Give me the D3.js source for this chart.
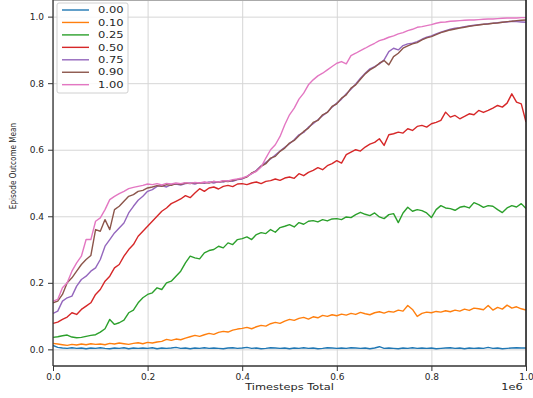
<!DOCTYPE html>
<html>
<head>
  <meta charset="utf-8">
  <title>Episode Outcome Mean</title>
  <style>
    body { margin: 0; background: #fff; }
    text { font-family: "DejaVu Sans", sans-serif; fill: #262626; }
  </style>
</head>
<body>
<script src="https://cdnjs.cloudflare.com/ajax/libs/d3/7.8.5/d3.min.js"></script>
<div id="vis"></div>
<script>

// timesteps, one point every 10k steps
var steps = d3.range(0, 101).map(function(i) { return i * 10000; });

var labels = ["0.00", "0.10", "0.25", "0.50", "0.75", "0.90", "1.00"];
var colors = ["#1f77b4", "#ff7f0e", "#2ca02c", "#d62728", "#9467bd", "#8c564b", "#e377c2"];

var xTicks = [0, 200000, 400000, 600000, 800000, 1000000];
var yTicks = [0, 0.2, 0.4, 0.6, 0.8, 1.0];

var s000 = [0.012,0.006,0.004,0.003,0.005,0.003,0.004,0.002,0.004,0.003,
  0.005,0.003,0.002,0.004,0.003,0.005,0.002,0.004,0.003,0.004,
  0.003,0.005,0.002,0.004,0.003,0.004,0.006,0.003,0.004,0.002,
  0.004,0.003,0.005,0.003,0.004,0.003,0.002,0.004,0.005,0.003,
  0.004,0.006,0.003,0.004,0.002,0.003,0.005,0.004,0.003,0.004,
  0.002,0.004,0.003,0.005,0.003,0.004,0.002,0.003,0.005,0.004,
  0.003,0.004,0.003,0.005,0.004,0.003,0.004,0.002,0.004,0.008,
  0.003,0.004,0.003,0.002,0.004,0.003,0.005,0.003,0.004,0.003,
  0.004,0.002,0.003,0.004,0.005,0.003,0.004,0.002,0.004,0.003,
  0.004,0.003,0.006,0.003,0.004,0.002,0.003,0.004,0.005,0.004,0.004];

var s010 = [0.018,0.016,0.014,0.012,0.015,0.013,0.016,0.014,0.017,0.015,
  0.016,0.014,0.018,0.016,0.019,0.017,0.015,0.018,0.02,0.017,
  0.021,0.019,0.022,0.024,0.03,0.027,0.031,0.029,0.034,0.038,
  0.042,0.039,0.044,0.048,0.045,0.051,0.054,0.052,0.058,0.061,
  0.063,0.066,0.062,0.068,0.072,0.07,0.077,0.081,0.078,0.085,
  0.09,0.087,0.093,0.096,0.091,0.098,0.095,0.102,0.099,0.104,
  0.101,0.106,0.103,0.108,0.105,0.111,0.107,0.104,0.11,0.113,
  0.109,0.114,0.112,0.118,0.115,0.132,0.12,0.099,0.108,0.112,
  0.11,0.114,0.112,0.116,0.113,0.118,0.115,0.121,0.117,0.124,
  0.122,0.119,0.132,0.118,0.126,0.121,0.133,0.124,0.128,0.122,0.118];

var s025 = [0.036,0.038,0.041,0.043,0.037,0.035,0.036,0.039,0.042,0.044,
  0.052,0.062,0.09,0.075,0.08,0.088,0.11,0.118,0.14,0.155,
  0.165,0.17,0.185,0.18,0.2,0.205,0.22,0.235,0.26,0.28,
  0.275,0.272,0.29,0.297,0.3,0.31,0.305,0.32,0.315,0.33,
  0.333,0.338,0.33,0.345,0.351,0.348,0.36,0.352,0.366,0.37,
  0.375,0.368,0.381,0.376,0.385,0.387,0.383,0.39,0.386,0.392,
  0.393,0.39,0.398,0.396,0.405,0.412,0.406,0.402,0.41,0.398,
  0.393,0.405,0.408,0.381,0.41,0.427,0.415,0.42,0.417,0.41,
  0.396,0.42,0.432,0.425,0.423,0.418,0.427,0.43,0.425,0.441,
  0.435,0.427,0.432,0.43,0.42,0.411,0.425,0.432,0.428,0.438,0.423];

var s050 = [0.078,0.082,0.09,0.097,0.11,0.105,0.12,0.13,0.14,0.165,
  0.18,0.205,0.22,0.245,0.255,0.28,0.3,0.315,0.34,0.355,
  0.37,0.385,0.4,0.415,0.425,0.438,0.445,0.452,0.462,0.456,
  0.47,0.483,0.475,0.485,0.488,0.482,0.49,0.493,0.489,0.497,
  0.498,0.495,0.5,0.503,0.498,0.505,0.507,0.512,0.508,0.515,
  0.518,0.514,0.528,0.522,0.532,0.538,0.546,0.54,0.552,0.558,
  0.567,0.56,0.585,0.593,0.6,0.596,0.608,0.617,0.622,0.633,
  0.613,0.645,0.648,0.653,0.65,0.663,0.658,0.67,0.673,0.668,
  0.678,0.682,0.688,0.713,0.698,0.703,0.693,0.7,0.708,0.705,
  0.718,0.712,0.718,0.725,0.733,0.728,0.74,0.768,0.743,0.738,0.683];

var s075 = [0.108,0.115,0.145,0.155,0.16,0.19,0.21,0.22,0.235,0.245,
  0.27,0.31,0.33,0.35,0.365,0.38,0.41,0.43,0.448,0.46,
  0.475,0.48,0.49,0.492,0.488,0.495,0.497,0.494,0.498,0.5,
  0.497,0.501,0.499,0.503,0.5,0.504,0.503,0.507,0.505,0.51,
  0.512,0.52,0.528,0.538,0.552,0.562,0.572,0.584,0.596,0.607,
  0.618,0.63,0.645,0.652,0.668,0.678,0.69,0.702,0.713,0.728,
  0.74,0.752,0.768,0.782,0.798,0.815,0.83,0.843,0.85,0.858,
  0.87,0.895,0.905,0.9,0.913,0.918,0.92,0.925,0.932,0.938,
  0.942,0.948,0.953,0.958,0.962,0.965,0.967,0.97,0.972,0.974,
  0.976,0.977,0.979,0.98,0.982,0.983,0.984,0.986,0.985,0.984,0.983];

var s090 = [0.14,0.145,0.165,0.2,0.215,0.235,0.255,0.27,0.282,0.36,
  0.355,0.39,0.36,0.42,0.43,0.445,0.46,0.465,0.475,0.478,
  0.485,0.488,0.492,0.49,0.495,0.493,0.498,0.496,0.5,0.498,
  0.501,0.499,0.502,0.5,0.505,0.502,0.506,0.504,0.508,0.511,
  0.514,0.518,0.53,0.536,0.55,0.558,0.575,0.58,0.595,0.605,
  0.62,0.628,0.642,0.655,0.665,0.682,0.688,0.705,0.712,0.73,
  0.738,0.755,0.765,0.785,0.795,0.812,0.828,0.84,0.848,0.86,
  0.868,0.855,0.88,0.89,0.905,0.912,0.918,0.922,0.93,0.936,
  0.94,0.946,0.952,0.956,0.96,0.963,0.966,0.968,0.971,0.973,
  0.975,0.977,0.978,0.98,0.981,0.983,0.985,0.986,0.988,0.989,0.99];

var s100 = [0.145,0.15,0.185,0.2,0.235,0.26,0.28,0.33,0.33,0.385,
  0.395,0.42,0.45,0.46,0.468,0.475,0.483,0.487,0.49,0.493,
  0.497,0.495,0.498,0.494,0.499,0.497,0.5,0.498,0.501,0.499,
  0.502,0.5,0.503,0.501,0.505,0.503,0.507,0.506,0.51,0.512,
  0.515,0.52,0.528,0.535,0.548,0.575,0.6,0.615,0.64,0.675,
  0.705,0.725,0.752,0.77,0.795,0.81,0.822,0.83,0.84,0.85,
  0.86,0.865,0.858,0.883,0.89,0.898,0.905,0.913,0.92,0.928,
  0.932,0.938,0.942,0.948,0.952,0.958,0.962,0.968,0.97,0.973,
  0.976,0.98,0.983,0.984,0.986,0.987,0.988,0.989,0.99,0.99,
  0.991,0.992,0.993,0.993,0.994,0.995,0.996,0.996,0.996,0.997,0.997];

var series = [s000, s010, s025, s050, s075, s090, s100];

var W = 533, H = 398;
var pLeft = 53, pRight = 526, pTop = 0, pBottom = 366;

var svg = d3.select("#vis").append("svg")
  .attr("width", W)
  .attr("height", H);

var x = d3.scaleLinear().domain([0, 1000000]).range([pLeft, pRight]);
var y = d3.scaleLinear().domain([-0.05, 1.05]).range([pBottom, pTop]);

// grid
svg.append("g")
  .attr("transform", "translate(0," + pBottom + ")")
  .call(d3.axisBottom(x).tickValues(xTicks).tickSize(-(pBottom - pTop)).tickFormat(""))
  .call(function(g) {
    g.select(".domain").remove();
    g.selectAll("line").attr("stroke", "#d6d6d6").attr("stroke-width", 1);
  });
svg.append("g")
  .attr("transform", "translate(" + pLeft + ",0)")
  .call(d3.axisLeft(y).tickValues(yTicks).tickSize(-(pRight - pLeft)).tickFormat(""))
  .call(function(g) {
    g.select(".domain").remove();
    g.selectAll("line").attr("stroke", "#d6d6d6").attr("stroke-width", 1);
  });

svg.append("clipPath").attr("id", "clip")
  .append("rect")
  .attr("x", pLeft).attr("y", pTop)
  .attr("width", pRight - pLeft).attr("height", pBottom - pTop);

var line = d3.line()
  .x(function(d, i) { return x(steps[i]); })
  .y(function(d) { return y(d); });

svg.append("g").attr("clip-path", "url(#clip)")
  .selectAll("path").data(series).enter().append("path")
  .attr("d", line)
  .attr("fill", "none")
  .attr("stroke", function(d, i) { return colors[i]; })
  .attr("stroke-width", 1.4)
  .attr("stroke-linejoin", "round");

// spines
svg.append("line")
  .attr("x1", pLeft).attr("x2", pRight).attr("y1", pTop + 0.5).attr("y2", pTop + 0.5)
  .attr("stroke", "#aaa").attr("stroke-width", 1);
svg.append("line")
  .attr("x1", pLeft).attr("x2", pLeft).attr("y1", pTop).attr("y2", pBottom)
  .attr("stroke", "#333").attr("stroke-width", 1.3);
svg.append("line")
  .attr("x1", pRight).attr("x2", pRight).attr("y1", pTop).attr("y2", pBottom)
  .attr("stroke", "#222").attr("stroke-width", 1.6);
svg.append("line")
  .attr("x1", pLeft).attr("x2", pRight).attr("y1", pBottom).attr("y2", pBottom)
  .attr("stroke", "#333").attr("stroke-width", 1.3);

// axes
var fmt = d3.format(".1f");
svg.append("g")
  .attr("transform", "translate(0," + pBottom + ")")
  .call(d3.axisBottom(x).tickValues(xTicks).tickSize(5).tickPadding(3)
    .tickFormat(function(d) { return fmt(d / 1e6); }))
  .call(function(g) {
    g.select(".domain").remove();
    g.selectAll("line").attr("stroke", "#333");
    g.selectAll("text").attr("font-size", 9).attr("font-family", "DejaVu Sans").attr("fill", "#333");
  });
svg.append("g")
  .attr("transform", "translate(" + pLeft + ",0)")
  .call(d3.axisLeft(y).tickValues(yTicks).tickSize(5).tickPadding(4).tickFormat(fmt))
  .call(function(g) {
    g.select(".domain").remove();
    g.selectAll("line").attr("stroke", "#333");
    g.selectAll("text").attr("font-size", 9).attr("font-family", "DejaVu Sans").attr("fill", "#333");
  });

// labels (picture is a bit wider than tall, so text is stretched sideways)
svg.append("text")
  .attr("transform", "translate(" + ((pLeft + pRight) / 2) + ",390) scale(1.2,1)")
  .attr("text-anchor", "middle")
  .attr("font-size", 9.5)
  .text("Timesteps Total");

svg.append("text")
  .attr("transform", "translate(512,390) scale(1.2,1)")
  .attr("text-anchor", "middle")
  .attr("font-size", 9.5)
  .text("1e6");

svg.append("text")
  .attr("transform", "translate(16,166) scale(1.3,1) rotate(-90)")
  .attr("text-anchor", "middle")
  .attr("font-size", 7.3)
  .text("Episode Outcome Mean");

// legend
var lg = svg.append("g");
lg.append("rect")
  .attr("x", 57).attr("y", 3)
  .attr("width", 71).attr("height", 90)
  .attr("rx", 2)
  .attr("fill", "#fff").attr("fill-opacity", 0.85)
  .attr("stroke", "#d0d0d0");

var row = lg.selectAll("g.row").data(labels).enter().append("g")
  .attr("class", "row")
  .attr("transform", function(d, i) { return "translate(0," + (10 + i * 12.45) + ")"; });

row.append("line")
  .attr("x1", 62).attr("x2", 89)
  .attr("stroke", function(d, i) { return colors[i]; })
  .attr("stroke-width", 1.4);

row.append("text")
  .attr("transform", "translate(98,3.2) scale(1.28,1)")
  .attr("font-size", 9)
  .text(function(d) { return d; });

</script>
</body>
</html>
